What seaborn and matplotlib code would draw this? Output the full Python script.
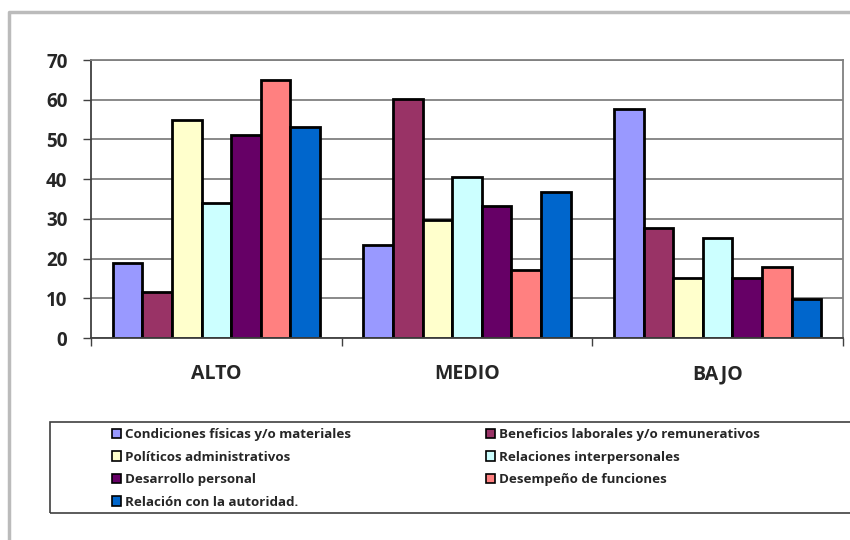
import pandas as pd
import numpy as np
import matplotlib.pyplot as plt
import seaborn as sns
from matplotlib.lines import Line2D
from matplotlib.patches import Rectangle

niveles = ["ALTO", "MEDIO", "BAJO"]
dimensiones = [
    "Condiciones físicas y/o materiales",
    "Beneficios laborales y/o remunerativos",
    "Políticos administrativos",
    "Relaciones interpersonales",
    "Desarrollo personal",
    "Desempeño de funciones",
    "Relación con la autoridad.",
]
alto = [18.9, 11.6, 54.9, 34.1, 51.2, 64.9, 53.1]
medio = [23.4, 60.3, 29.7, 40.5, 33.3, 17.1, 36.8]
bajo = [57.6, 27.8, 15.2, 25.1, 15.2, 17.9, 9.9]
colores = ["#9999FF", "#993366", "#FFFFCC", "#CCFFFF", "#660066", "#FF8080", "#0066CC"]

rows = []
for nivel, vals in zip(niveles, [alto, medio, bajo]):
    for dim, v in zip(dimensiones, vals):
        rows.append({"nivel": nivel, "dimension": dim, "valor": v})
df = pd.DataFrame(rows)

sns.set_style("white")
plt.rcParams["font.family"] = ["Open Sans", "DejaVu Sans"]
plt.rcParams["font.weight"] = "bold"

fig = plt.figure(figsize=(8.5, 5.4), dpi=100)
ax = fig.add_axes([91 / 850, 1 - 338 / 540, 752 / 850, 278 / 540])

sns.barplot(data=df, x="nivel", y="valor", hue="dimension", order=niveles,
            hue_order=dimensiones, palette=colores, saturation=1,
            edgecolor="black", linewidth=2, width=0.826, ax=ax, legend=True)
handles, labels = ax.get_legend_handles_labels()
ax.legend_.remove()

ax.set_xlim(-0.5, 2.5)
ax.set_ylim(0, 70)
ax.set_yticks(range(0, 71, 10))
ax.set_xlabel("")
ax.set_ylabel("")
ax.yaxis.grid(True, color="#808080", linewidth=1.3)
ax.set_axisbelow(True)

for s in ["top", "right"]:
    ax.spines[s].set_color("#808080")
    ax.spines[s].set_linewidth(1.3)
for s in ["left", "bottom"]:
    ax.spines[s].set_color("#404040")
    ax.spines[s].set_linewidth(1.3)

ax.tick_params(axis="y", direction="out", length=6, width=1, color="#404040",
               left=True, pad=11, labelsize=13.5)
ax.set_xticks([-0.5, 0.5, 1.5, 2.5], minor=True)
ax.tick_params(axis="x", which="minor", direction="out", length=6, width=1,
               color="#404040", bottom=True)
ax.tick_params(axis="x", which="major", length=0, pad=19, labelsize=14)
for t in ax.get_xticklabels() + ax.get_yticklabels():
    t.set_fontweight("bold")

# legend, two columns like the original
orden1 = [0, 2, 4, 6]
orden2 = [1, 3, 5]
kw = dict(loc="upper left", frameon=False, handlelength=0.7,
          handleheight=0.7, handletextpad=0.3, labelspacing=0.72,
          borderpad=0, borderaxespad=0, prop={"weight": "bold", "size": 9.6})
leg1 = fig.legend([handles[i] for i in orden1], [labels[i] for i in orden1],
                  bbox_to_anchor=(112 / 850, 1 - 428 / 540), **kw)
leg2 = fig.legend([handles[i] for i in orden2], [labels[i] for i in orden2],
                  bbox_to_anchor=(486 / 850, 1 - 428 / 540), **kw)
for leg in (leg1, leg2):
    for h in leg.legend_handles:
        h.set_edgecolor("black")
        h.set_linewidth(1.2)

fig.add_artist(Rectangle((50 / 850, 1 - 513 / 540), 900 / 850, 91 / 540,
                         transform=fig.transFigure, fill=False,
                         edgecolor="#404040", linewidth=1.2))

# outer frame of the page
fig.add_artist(Line2D([9 / 850, 9 / 850, 1.0], [0.0, 1 - 12 / 540, 1 - 12 / 540],
                      transform=fig.transFigure, color="#BBBBBB", linewidth=2.5))

fig.savefig("out.png", dpi=100)
